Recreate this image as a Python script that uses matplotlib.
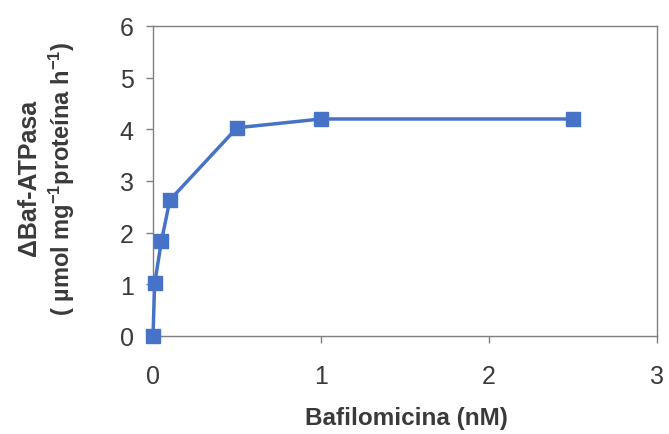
import matplotlib
matplotlib.use("Agg")
import matplotlib.pyplot as plt

# Bafilomycin concentration (nM) and Baf-sensitive ATPase activity
bafilomicina = [0, 0.01, 0.05, 0.1, 0.5, 1.0, 2.5]
atpasa = [0.0, 1.02, 1.83, 2.63, 4.03, 4.2, 4.2]

x_ticks = [0, 1, 2, 3]
y_ticks = [0, 1, 2, 3, 4, 5, 6]

plt.rcParams["font.family"] = ["Liberation Sans", "DejaVu Sans"]
plt.rcParams["mathtext.fontset"] = "custom"
plt.rcParams["mathtext.rm"] = "Liberation Sans:bold"
plt.rcParams["mathtext.it"] = "Liberation Sans:bold"
plt.rcParams["mathtext.bf"] = "Liberation Sans:bold"
plt.rcParams["mathtext.default"] = "rm"

text_color = "#3a3a3a"
spine_color = "#7f7f7f"
blue = "#4673c8"

fig = plt.figure(figsize=(6.69, 4.35), dpi=100)
ax = fig.add_axes([0.2287, 0.2253, 0.7533, 0.7127])

ax.plot(bafilomicina, atpasa, color=blue, linewidth=2.5,
        marker="s", markersize=10.5, markerfacecolor=blue,
        markeredgecolor=blue, clip_on=False, zorder=3)

ax.set_xlim(0, 3)
ax.set_ylim(0, 6)
ax.set_xticks(x_ticks)
ax.set_yticks(y_ticks)
ax.set_xticklabels([str(v) for v in x_ticks])
ax.set_yticklabels([str(v) for v in y_ticks])

for s in ax.spines.values():
    s.set_color(spine_color)
    s.set_linewidth(1.0)

ax.tick_params(axis="both", direction="out", length=5, width=1.0,
               colors=spine_color, labelcolor=text_color, labelsize=18)
ax.tick_params(axis="x", pad=15)
ax.tick_params(axis="y", pad=9)

fig.text(0.607, 0.022, "Bafilomicina (nM)", ha="center", va="baseline",
         fontsize=17.5, fontweight="bold", color=text_color)

fig.text(0.044, 0.592, "\u0394Baf-ATPasa", ha="center", va="center",
         rotation=90, fontsize=18, fontweight="bold", color=text_color)
fig.text(0.092, 0.59, "( \u00b5mol mg$^{-1}$prote\u00edna h$^{-1}$)",
         ha="center", va="center", rotation=90, fontsize=17,
         fontweight="bold", color=text_color)

fig.savefig("out.png", dpi=100, facecolor="white")
